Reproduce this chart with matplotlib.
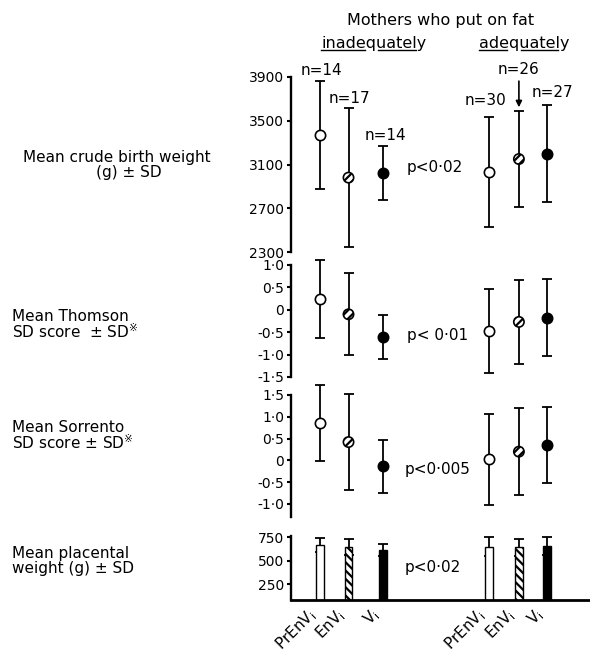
"""Birth weight, SD scores and placental weight by maternal fat gain (mean +/- SD)."""
import matplotlib
matplotlib.use("Agg")
import matplotlib.pyplot as plt

# --- data --------------------------------------------------------------------
GROUPS = ["PrEnVi", "EnVi", "Vi"]
N_INAD = [14, 17, 14]
N_AD = [30, 26, 27]

BW_INAD_MEAN = [3370, 2980, 3020]           # crude birth weight (g)
BW_INAD_SD = [490, 635, 245]
BW_AD_MEAN = [3030, 3150, 3200]
BW_AD_SD = [500, 435, 440]

THOM_INAD_MEAN = [0.24, -0.10, -0.60]       # Thomson SD score
THOM_INAD_SD = [0.87, 0.92, 0.49]
THOM_AD_MEAN = [-0.47, -0.27, -0.18]
THOM_AD_SD = [0.93, 0.93, 0.86]

SORR_INAD_MEAN = [0.86, 0.42, -0.14]        # Sorrento SD score
SORR_INAD_SD = [0.88, 1.10, 0.60]
SORR_AD_MEAN = [0.02, 0.20, 0.35]
SORR_AD_SD = [1.05, 1.00, 0.88]

PLAC_INAD_MEAN = [668, 649, 614]            # placental weight (g)
PLAC_INAD_SD = [71, 83, 61]
PLAC_AD_MEAN = [649, 643, 660]
PLAC_AD_SD = [100, 89, 96]

P_TEXT = ["p<0·02", "p< 0·01", "p<0·005", "p<0·02"]
P_YPOS = [3070, -0.58, -0.22, 432]

BW_TICKS = [2300, 2700, 3100, 3500, 3900]
SD_TICKS_THOM = [1.0, 0.5, 0, -0.5, -1.0, -1.5]
SD_LABELS_THOM = ["1·0", "0·5", "0", "-0·5", "-1·0", "-1·5"]
SD_TICKS_SORR = [1.5, 1.0, 0.5, 0, -0.5, -1.0]
SD_LABELS_SORR = ["1·5", "1·0", "0·5", "0", "-0·5", "-1·0"]
PLAC_TICKS = [750, 500, 250]

ROW_LABELS = [
    "Mean crude birth weight\n" + " " * 15 + "(g) ± SD",
    "Mean Thomson\nSD score  ± SD$^{※}$",
    "Mean Sorrento\nSD score ± SD$^{※}$",
    "Mean placental\nweight (g) ± SD",
]

# --- layout ------------------------------------------------------------------
W, H = 590, 655
X_INAD = [0, 0.95, 2.1]
X_AD = [5.63, 6.63, 7.57]
XS = X_INAD + X_AD
FS = 11
TFS = 10

plt.rcParams["font.family"] = ["DejaVu Sans"]
plt.rcParams["hatch.linewidth"] = 1.6
plt.rcParams["mathtext.default"] = "regular"


def px_axes(fig, top, bottom):
    return fig.add_axes([291 / W, 1 - bottom / H, 299 / W, (bottom - top) / H])


def style(ax, ylim, ticks, labels=None, bottom_axis=False):
    ax.set_xlim(-0.967, 9.0)
    ax.set_ylim(*ylim)
    for s in ("top", "right"):
        ax.spines[s].set_visible(False)
    ax.spines["left"].set_linewidth(1.7)
    if bottom_axis:
        ax.spines["bottom"].set_linewidth(2.0)
    else:
        ax.spines["bottom"].set_visible(False)
        ax.set_xticks([])
    ax.set_yticks(ticks)
    ax.set_yticklabels(labels if labels else [str(t) for t in ticks])
    ax.tick_params(axis="y", direction="out", length=3, width=1.5, pad=2,
                   labelsize=TFS)
    ax.patch.set_visible(False)


def point_panel(ax, means_i, sds_i, means_a, sds_a):
    means = means_i + means_a
    sds = sds_i + sds_a
    eb = ax.errorbar(XS, means, yerr=sds, fmt="none", ecolor="k",
                     elinewidth=1.3, capsize=3.8, capthick=1.3, zorder=1)
    for art in list(eb[1]) + list(eb[2]):
        art.set_clip_on(False)
    faces = ["white", "white", "black"]
    hatches = [None, "////", None]
    for k in range(3):
        ax.scatter([XS[k], XS[k + 3]], [means[k], means[k + 3]], s=55,
                   facecolor=faces[k], edgecolor="k", linewidth=1.2,
                   hatch=hatches[k], zorder=3, clip_on=False)


def underline(fig, txt, renderer, gaps="qy"):
    fp = txt.get_fontproperties()
    s = txt.get_text()
    bb = txt.get_window_extent(renderer)

    def w(sub):
        return renderer.get_text_width_height_descent(sub, fp, ismath=False)[0] if sub else 0.0

    y = (bb.y0 + 1) / fig.bbox.height
    start = 0
    for i in range(len(s) + 1):
        if i == len(s) or s[i] in gaps:
            if i > start:
                x0 = bb.x0 + w(s[:start]) + (1.5 if start else 0)
                x1 = bb.x0 + w(s[:i]) - (1.5 if i < len(s) else 0)
                fig.add_artist(plt.Line2D([x0 / fig.bbox.width, x1 / fig.bbox.width],
                                          [y, y], color="k", lw=1.0))
            start = i + 1


fig = plt.figure(figsize=(W / 100, H / 100), dpi=100)

# panel 1: crude birth weight
ax1 = px_axes(fig, 77, 252)
style(ax1, (2300, 3900), BW_TICKS)
point_panel(ax1, BW_INAD_MEAN, BW_INAD_SD, BW_AD_MEAN, BW_AD_SD)

# n labels above the birth-weight error bars (offsets in px)
n_all = N_INAD + N_AD
tops = [m + s for m, s in zip(BW_INAD_MEAN + BW_AD_MEAN, BW_INAD_SD + BW_AD_SD)]
n_offsets = [(1, 11), (1, 10), (2, 11), (-3, 17), (0, 42), (5, 13)]
for k, (n, top, off) in enumerate(zip(n_all, tops, n_offsets)):
    kw = {}
    if k == 4:
        kw["arrowprops"] = dict(arrowstyle="-|>", color="k", lw=1.2,
                                mutation_scale=9, shrinkA=1, shrinkB=3)
    ax1.annotate(f"n={n}", xy=(XS[k], top),
                 xytext=(off[0] * 0.72, off[1] * 0.72), textcoords="offset points",
                 ha="center", va="center", fontsize=FS, annotation_clip=False, **kw)

# panel 2: Thomson SD score
ax2 = px_axes(fig, 265, 377)
style(ax2, (-1.5, 1.0), SD_TICKS_THOM, SD_LABELS_THOM)
point_panel(ax2, THOM_INAD_MEAN, THOM_INAD_SD, THOM_AD_MEAN, THOM_AD_SD)

# panel 3: Sorrento SD score
ax3 = px_axes(fig, 395, 517)
style(ax3, (-1.3, 1.5), SD_TICKS_SORR, SD_LABELS_SORR)
point_panel(ax3, SORR_INAD_MEAN, SORR_INAD_SD, SORR_AD_MEAN, SORR_AD_SD)

# panel 4: placental weight bars
ax4 = px_axes(fig, 536, 600)
style(ax4, (80, 764), PLAC_TICKS, bottom_axis=True)
pl_means = PLAC_INAD_MEAN + PLAC_AD_MEAN
pl_sds = PLAC_INAD_SD + PLAC_AD_SD
ax4.errorbar(XS, pl_means, yerr=pl_sds, fmt="none", ecolor="k",
             elinewidth=1.3, capsize=3.8, capthick=1.3, zorder=1)
faces = ["white", "white", "black"]
hatches = [None, "\\\\\\\\", None]
for k in range(3):
    ax4.bar([XS[k], XS[k + 3]], [pl_means[k], pl_means[k + 3]], width=0.25,
            bottom=0, color=faces[k], edgecolor="k", linewidth=1.0,
            hatch=hatches[k], zorder=2)
ax4.set_xticks(XS)
ax4.set_xticklabels([g[:-1] + "$_{i}$" for g in GROUPS] * 2, rotation=45,
                    ha="right", va="top", fontsize=FS)
ax4.tick_params(axis="x", length=0, pad=4)

# p values
for ax, txt, yv, xv in zip((ax1, ax2, ax3, ax4), P_TEXT, P_YPOS, (2.9, 2.9, 2.83, 2.83)):
    ax.text(xv, yv, txt, ha="left", va="center", fontsize=FS)

# headings
fig.text(441 / W, 1 - 20 / H, "Mothers who put on fat", ha="center", va="center",
         fontsize=FS + 0.5)
t_in = fig.text(374 / W, 1 - 48 / H, "inadequately", ha="center", va="baseline",
                fontsize=FS + 0.5)
t_ad = fig.text(524 / W, 1 - 48 / H, "adequately", ha="center", va="baseline",
                fontsize=FS + 0.5)

# row labels (two lines each)
fig.text(117 / W, 1 - 165 / H, ROW_LABELS[0], ha="center", va="center",
         multialignment="left", fontsize=FS, linespacing=1.0)
for lab, yc in zip(ROW_LABELS[1:], (325, 436, 561)):
    fig.text(12 / W, 1 - yc / H, lab, ha="left", va="center", fontsize=FS,
             linespacing=0.95)

renderer = fig.canvas.get_renderer()
underline(fig, t_in, renderer)
underline(fig, t_ad, renderer)

fig.savefig("out.png", dpi=100)
